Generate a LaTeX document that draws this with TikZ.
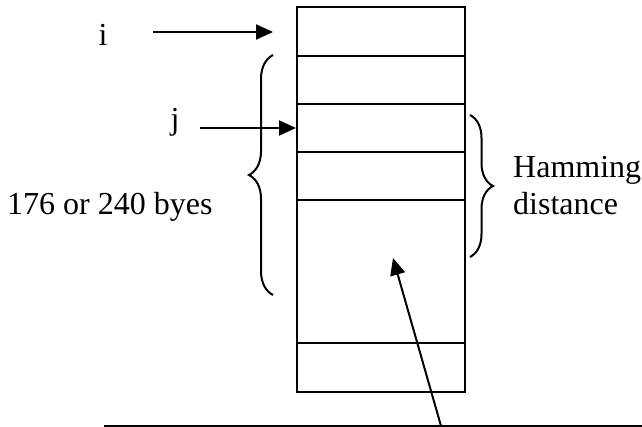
\documentclass[tikz,border=0pt]{standalone}
\usepackage{fontspec}
\setmainfont{Liberation Serif}
\usetikzlibrary{arrows.meta,decorations.pathreplacing}
\tikzset{
  lbl/.style={inner sep=0pt, font=\fontsize{32}{37}\selectfont},
  ln/.style={line width=2pt},
  arr/.style={ln, -{Triangle[length=17pt,width=15pt]}},
  brc/.style={ln, decorate, decoration={brace, amplitude=24pt}},
}
\begin{document}
\begin{tikzpicture}[x=1pt,y=-1pt]
\useasboundingbox (0,0) rectangle (642,427);
% memory block
\node[draw, ln, minimum width=168pt, minimum height=385pt, inner sep=0pt] (box) at (381,199.5) {};
\foreach \yy/\nm in {56/r1,104/r2,152/r3,200/r4,343/r5}{
  \coordinate (\nm w) at (box.west |- 0,\yy);
  \coordinate (\nm e) at (box.east |- 0,\yy);
  \draw[ln] (\nm w) -- (\nm e);
}
% labels
\node[lbl, anchor=base] (i) at (103,46) {i};
\node[lbl, anchor=base] (j) at (175,130) {j};
\node[lbl, anchor=base west] (bytes) at (7,215) {176 or 240 byes};
\node[lbl, anchor=base west] (ham) at (513,178) {Hamming};
\node[lbl, anchor=base west] (dist) at (513,215) {distance};
% arrows
\coordinate (istart) at (153,32);
\coordinate (iend) at (273,32);
\draw[arr] (istart) -- (iend);
\coordinate (jstart) at (200,128);
\draw[arr] (jstart) -- (box.west |- jstart);
% braces
\coordinate (lb1) at (273,295);
\coordinate (lb2) at (273,55);
\draw[brc] (lb1) -- (lb2);
\coordinate (rb1) at (470,115);
\coordinate (rb2) at (470,257);
\draw[brc, decoration={amplitude=23pt}] (rb1) -- (rb2);
% bottom line and pointer
\coordinate (bl1) at (104,426);
\coordinate (bl2) at (642,426);
\draw[ln] (bl1) -- (bl2);
\coordinate (pstart) at (441,426);
\coordinate (ptip) at (393,258);
\draw[arr] (pstart) -- (ptip);
\end{tikzpicture}
\end{document}
